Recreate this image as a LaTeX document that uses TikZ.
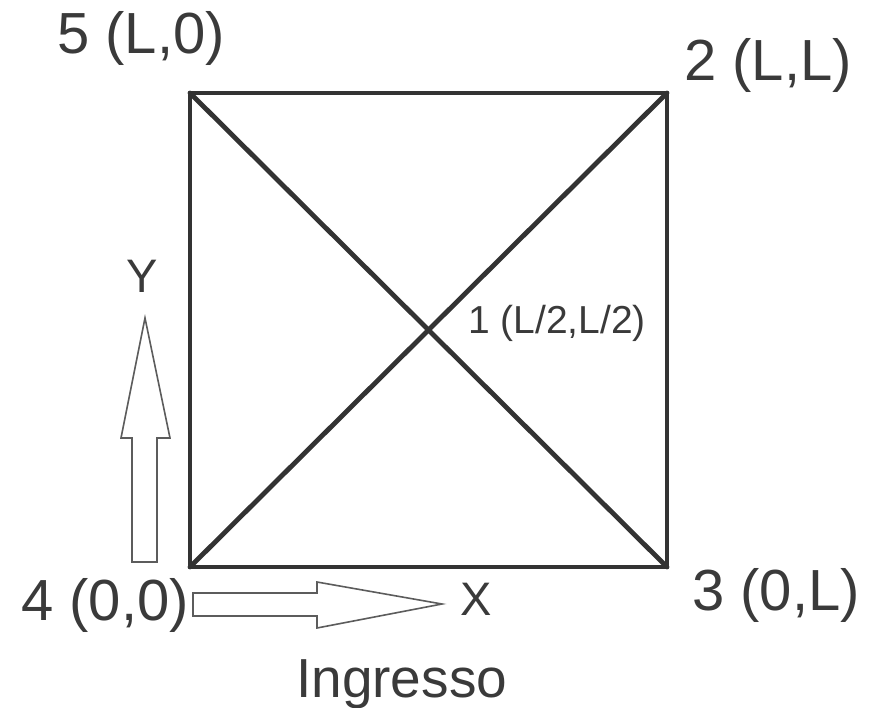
\documentclass[tikz,border=0pt]{standalone}
\usepackage{fontspec}
\setmainfont{Liberation Sans}
\definecolor{ink}{HTML}{333333}
\definecolor{txt}{HTML}{3A3A3A}
\tikzset{
  edge/.style={draw=ink,line width=4.8pt,line join=round,line cap=round},
  hollow/.style={draw=ink!80,line width=1.6pt,fill=white,line join=miter},
  biglab/.style={text=txt,inner sep=0pt,anchor=base west,font=\fontsize{58}{60}\selectfont},
  axlab/.style={text=txt,inner sep=0pt,anchor=base west,font=\fontsize{47}{50}\selectfont}
}
\begin{document}
\begin{tikzpicture}[x=1pt,y=-1pt]
\useasboundingbox (0,0) rectangle (870,707);

\coordinate (c4) at (190,567);
\coordinate (c3) at (667,567);
\coordinate (c2) at (667,93);
\coordinate (c5) at (190,93);
\coordinate (c1) at (428.5,330);

\draw[edge] (c4) -- (c3) -- (c2) -- (c5) -- cycle;
\draw[edge] (c5) -- (c1) -- (c3);
\draw[edge] (c4) -- (c1) -- (c2);

% axis arrows
\draw[hollow] (132,562) -- (132,438) -- (121,438) -- (145,318) -- (170,438)
  -- (157,438) -- (157,562) -- cycle;
\draw[hollow] (193,593) -- (317,593) -- (317,582) -- (442,604) -- (317,628)
  -- (317,616) -- (193,616) -- cycle;

\node[biglab] (lab5) at (57,53) {5 (L,0)};
\node[biglab] (lab2) at (684,80) {2 (L,L)};
\node[biglab] (lab3) at (692,610) {3 (0,L)};
\node[biglab] (lab4) at (21,620) {4 (0,0)};
\node[text=txt,inner sep=0pt,anchor=base west,font=\fontsize{39}{42}\selectfont]
  (lab1) at (468,333) {1 (L/2,L/2)};
\node[axlab] (labx) at (460,615) {X};
\node[axlab] (laby) at (126,292) {Y};
\node[text=txt,inner sep=0pt,anchor=base west,font=\fontsize{55}{58}\selectfont]
  (ingr) at (296,697) {Ingresso};
\end{tikzpicture}
\end{document}
